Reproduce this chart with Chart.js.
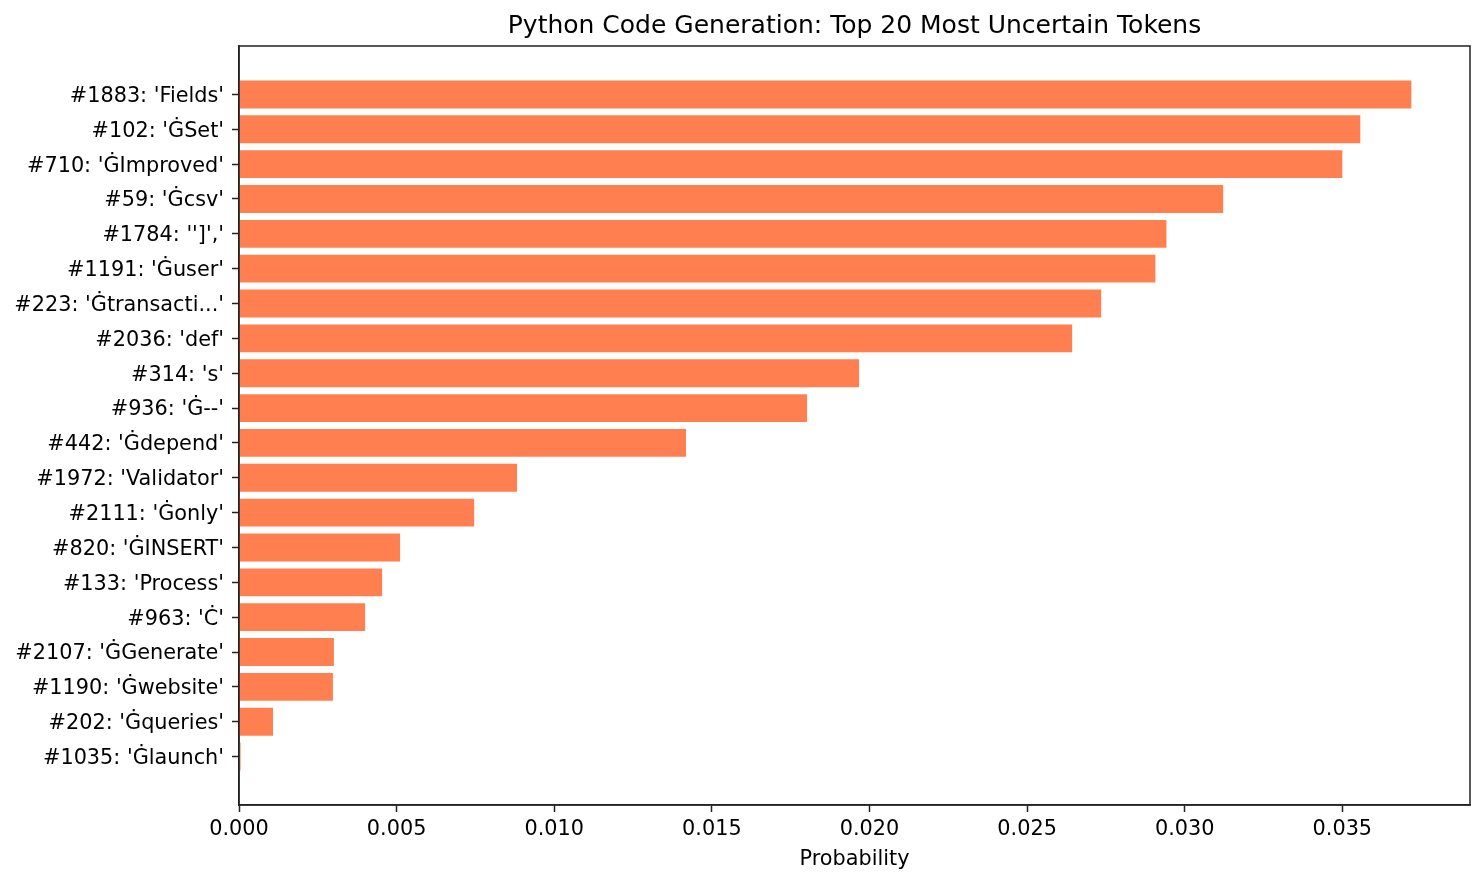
<!DOCTYPE html>
<html>
<head>
<meta charset="utf-8">
<script src="https://cdn.jsdelivr.net/npm/chart.js@4.4.1/dist/chart.umd.min.js"></script>
<style>
html,body{margin:0;padding:0;background:#fff;}
#wrap{width:1484px;height:884px;position:relative;}
</style>
</head>
<body>
<div id="wrap"><canvas id="c" width="1484" height="884"></canvas></div>
<script>
const chartTitle = "Python Code Generation: Top 20 Most Uncertain Tokens";
const xAxisTitle = "Probability";
const tokenLabels = [
  "#1883: 'Fields'",
  "#102: 'ĠSet'",
  "#710: 'ĠImproved'",
  "#59: 'Ġcsv'",
  "#1784: '']','",
  "#1191: 'Ġuser'",
  "#223: 'Ġtransacti...'",
  "#2036: 'def'",
  "#314: 's'",
  "#936: 'Ġ--'",
  "#442: 'Ġdepend'",
  "#1972: 'Validator'",
  "#2111: 'Ġonly'",
  "#820: 'ĠINSERT'",
  "#133: 'Process'",
  "#963: 'Ċ'",
  "#2107: 'ĠGenerate'",
  "#1190: 'Ġwebsite'",
  "#202: 'Ġqueries'",
  "#1035: 'Ġlaunch'"
];
const probabilities = [
  0.03719, 0.03557, 0.03500, 0.03122, 0.02942, 0.02907, 0.02735, 0.02643,
  0.01967, 0.01802, 0.01418, 0.00882, 0.00746, 0.00511, 0.00454, 0.00400,
  0.00301, 0.00298, 0.00108, 0.00005
];
const xTickValues = [0, 0.005, 0.010, 0.015, 0.020, 0.025, 0.030, 0.035];

const FONT = "'DejaVu Sans', sans-serif";
const AXIS_COLOR = '#222222';

const framePlugin = {
  id: 'frame',
  afterDraw(chart) {
    const {ctx, chartArea: a} = chart;
    ctx.save();
    ctx.strokeStyle = AXIS_COLOR;
    ctx.lineWidth = 1.5;
    ctx.strokeRect(a.left, a.top, a.right - a.left, a.bottom - a.top);
    ctx.fillStyle = '#000';
    ctx.font = "25px " + FONT;
    ctx.textAlign = 'center';
    ctx.textBaseline = 'alphabetic';
    ctx.fillText(chartTitle, (a.left + a.right) / 2, 33);
    ctx.restore();
  }
};

new Chart(document.getElementById('c'), {
  type: 'bar',
  data: {
    datasets: [{
      data: probabilities.map((v, i) => ({x: v, y: i})),
      backgroundColor: '#FF7F50',
      borderWidth: 0,
      barPercentage: 0.8,
      categoryPercentage: 1.0
    }]
  },
  options: {
    indexAxis: 'y',
    responsive: false,
    animation: false,
    devicePixelRatio: 1,
    layout: {padding: {top: 46, right: 14, left: 0, bottom: 0}},
    plugins: {legend: {display: false}, tooltip: {enabled: false}, title: {display: false}},
    scales: {
      x: {
        type: 'linear',
        min: 0,
        max: 0.03905,
        offset: false,
        afterBuildTicks(scale) { scale.ticks = xTickValues.map(v => ({value: v})); },
        afterFit(scale) { scale.height = 79; },
        ticks: {
          callback: v => v.toFixed(3),
          color: '#000',
          font: {family: FONT, size: 20.8},
          padding: 5,
          autoSkip: false,
          maxRotation: 0
        },
        grid: {drawOnChartArea: false, offset: false, tickLength: 7, tickColor: AXIS_COLOR, tickWidth: 1.5},
        border: {color: AXIS_COLOR, width: 1.5},
        title: {
          display: true,
          text: xAxisTitle,
          color: '#000',
          font: {family: FONT, size: 20.8},
          padding: {top: 0, bottom: 12}
        }
      },
      y: {
        type: 'linear',
        min: -1.39,
        max: 20.39,
        reverse: true,
        offset: false,
        afterBuildTicks(scale) { scale.ticks = tokenLabels.map((_, i) => ({value: i})); },
        afterFit(scale) { scale.width = 239; },
        ticks: {
          callback: v => tokenLabels[v],
          color: '#000',
          font: {family: FONT, size: 20.8},
          padding: 8,
          labelOffset: 2,
          autoSkip: false
        },
        grid: {drawOnChartArea: false, offset: false, tickLength: 7, tickColor: AXIS_COLOR, tickWidth: 1.5},
        border: {color: AXIS_COLOR, width: 1.5}
      }
    }
  },
  plugins: [framePlugin]
});
</script>
</body>
</html>
